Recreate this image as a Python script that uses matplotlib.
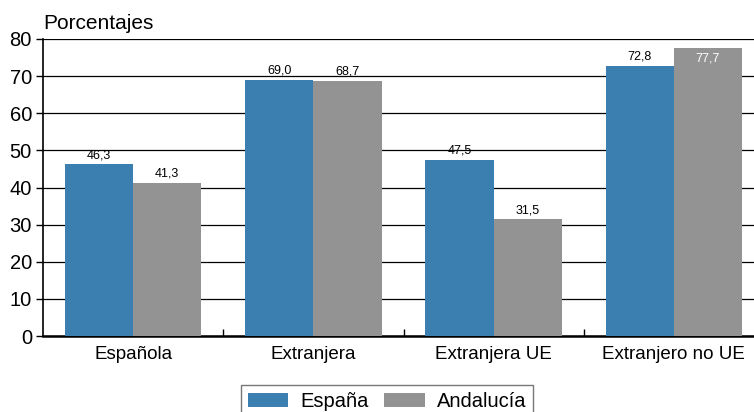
import matplotlib
matplotlib.use("Agg")
import matplotlib.pyplot as plt
import numpy as np

plt.rcParams['font.family'] = ['Liberation Sans', 'DejaVu Sans']

categorias = ["Española", "Extranjera", "Extranjera UE", "Extranjero no UE"]
espana = [46.3, 69.0, 47.5, 72.8]
andalucia = [41.3, 68.7, 31.5, 77.7]
yticks = [0, 10, 20, 30, 40, 50, 60, 70, 80]

azul = "#3b7eb0"
gris = "#939393"

fig = plt.figure(figsize=(7.54, 4.12), dpi=100)
ax = fig.add_axes([43 / 754, 1 - 336 / 412, 721 / 754, 297 / 412])

x = np.arange(len(categorias))
w = 0.378
b1 = ax.bar(x - w / 2, espana, w, color=azul, label="España", zorder=3)
b2 = ax.bar(x + w / 2, andalucia, w, color=gris, label="Andalucía", zorder=3)

for rect, v in zip(b1, espana):
    ax.text(rect.get_x() + rect.get_width() / 2, v + 0.8, f"{v:.1f}".replace(".", ","),
            ha="center", va="bottom", fontsize=9, color="black", zorder=4)
for rect, v in zip(b2, andalucia):
    col = "black"
    y = v + 0.8
    if v > 75:
        col = "white"
        y = v - 4.6
    ax.text(rect.get_x() + rect.get_width() / 2, y, f"{v:.1f}".replace(".", ","),
            ha="center", va="bottom", fontsize=9, color=col, zorder=4)

ax.set_xlim(-0.5, len(categorias) - 0.5)
ax.set_ylim(0, 80)
ax.set_yticks(yticks)
ax.set_yticklabels([str(t) for t in yticks], fontsize=14.5)
ax.yaxis.grid(True, color="black", linewidth=0.9, zorder=1)
ax.tick_params(axis="y", direction="out", length=5, width=1, pad=3)

ax.set_xticks(x)
ax.set_xticklabels(categorias, fontsize=13.5)
ax.tick_params(axis="x", length=0, pad=7)
ax.set_xticks(np.arange(0.5, len(categorias) - 0.5, 1), minor=True)
ax.tick_params(axis="x", which="minor", direction="in", length=5, width=1)

for s in ["top", "right"]:
    ax.spines[s].set_visible(False)
ax.spines["left"].set_linewidth(1.2)
ax.spines["bottom"].set_linewidth(1.8)

fig.text(43 / 754, 1 - 29 / 412, "Porcentajes", fontsize=15, va="baseline")

leg = fig.legend(handles=[b1, b2], loc="lower center", bbox_to_anchor=(387 / 754, -0.04),
                 ncol=2, fontsize=14.5, frameon=True, fancybox=False, edgecolor="#555555",
                 handlelength=2.0, handleheight=0.7, columnspacing=0.8, handletextpad=0.6,
                 borderpad=0.35)
leg.get_frame().set_linewidth(1.0)

fig.savefig("out.png", dpi=100)
